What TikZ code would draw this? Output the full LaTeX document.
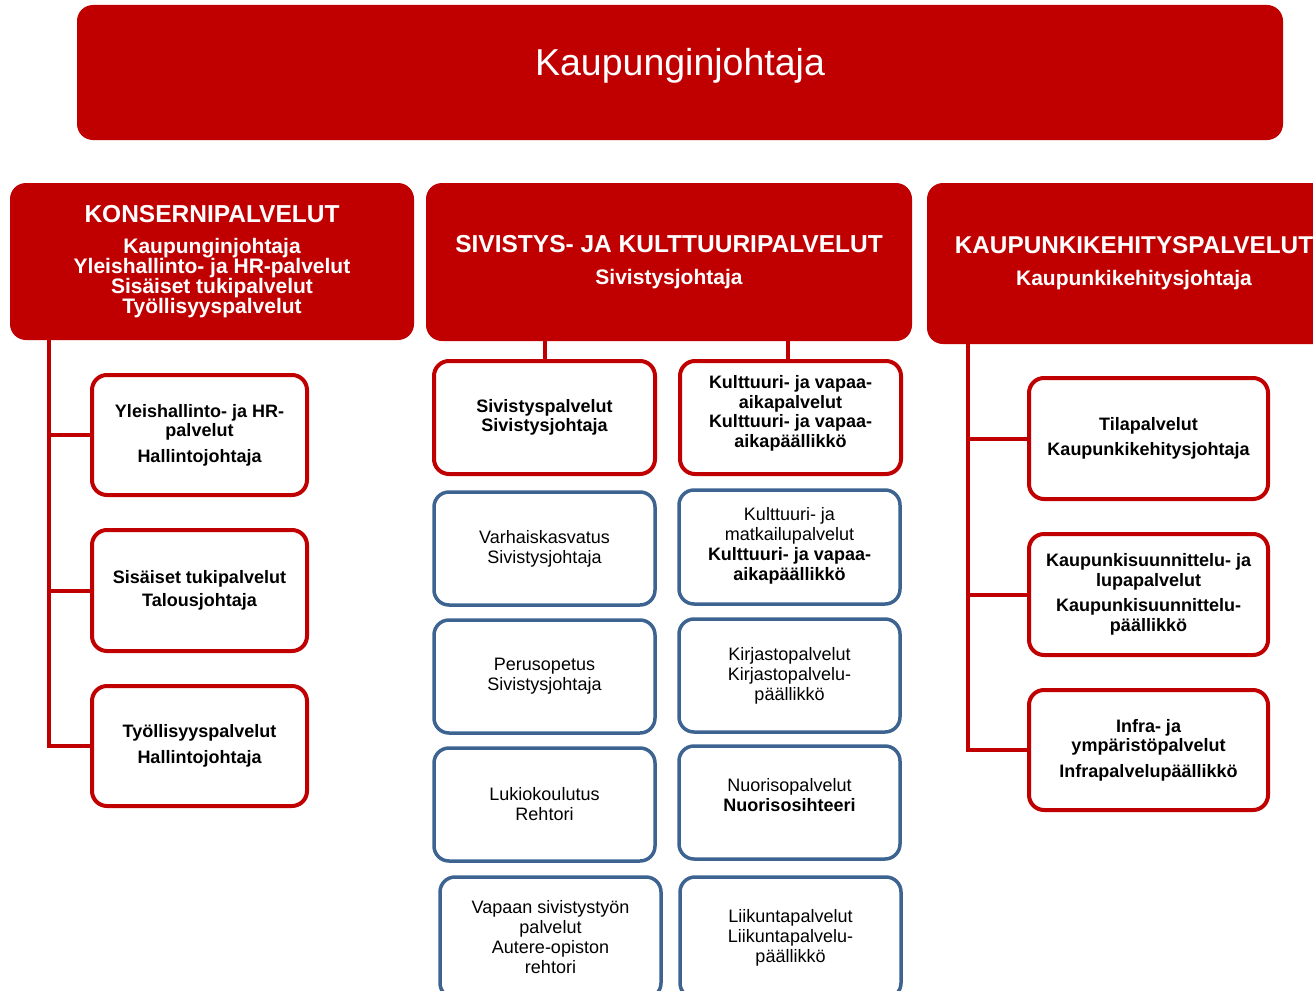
\documentclass[tikz,border=0pt]{standalone}
\usepackage{fontspec}
\setmainfont{Liberation Sans}
\definecolor{kred}{RGB}{192,0,0}
\definecolor{kblue}{RGB}{61,99,145}
\tikzset{
  hdr/.style={fill=kred, draw=none, rounded corners=16pt, text=white, align=center, font=\fontsize{21}{20}\selectfont\bfseries},
  rbox/.style={draw=kred, line width=4pt, fill=white, rounded corners=15pt, align=center, inner sep=2pt, font=\fontsize{18}{19.5}\selectfont\bfseries},
  bbox/.style={draw=kblue, line width=3.5pt, fill=white, rounded corners=15pt, align=center, inner sep=2pt, font=\fontsize{18}{20}\selectfont},
  conn/.style={draw=kred, line width=4pt},
}
\begin{document}
\begin{tikzpicture}[x=1pt,y=-1pt]
\useasboundingbox (0,0) rectangle (1313,990);
\clip (0,0) rectangle (1313,990);
\fill[white] (0,0) rectangle (1313,990);

% top banner
\node[hdr, font=\fontsize{37.5}{40}\selectfont, minimum width=1206pt, minimum height=135pt, text height=20pt, text depth=15pt] (kj) at (680,72.5) {Kaupunginjohtaja};

% headers
\node[hdr, minimum width=404pt, minimum height=157pt] (kons) at (212,261.5)
  {{\fontsize{24.5}{26}\selectfont KONSERNIPALVELUT}\\[11pt]Kaupunginjohtaja\\Yleishallinto- ja HR-palvelut\\Sisäiset tukipalvelut\\Työllisyyspalvelut};
\node[hdr, minimum width=486pt, minimum height=158pt] (siv) at (669,262)
  {{\fontsize{24.5}{26}\selectfont SIVISTYS- JA KULTTUURIPALVELUT}\\[12pt]Sivistysjohtaja};
\node[hdr, minimum width=414pt, minimum height=161pt] (kau) at (1134,263.5)
  {{\fontsize{24.3}{26}\selectfont KAUPUNKIKEHITYSPALVELUT}\\[12pt]Kaupunkikehitysjohtaja};

% left column
\node[rbox, minimum width=215pt, minimum height=120pt] (lb1) at (199.5,435) {Yleishallinto- ja HR-\\palvelut\\[6pt]Hallintojohtaja};
\node[rbox, minimum width=215pt, minimum height=121pt] (lb2) at (199.5,590.5) {Sisäiset tukipalvelut\\[4pt]Talousjohtaja};
\node[rbox, minimum width=215pt, minimum height=120pt] (lb3) at (199.5,746) {Työllisyyspalvelut\\[6pt]Hallintojohtaja};

% middle columns
\node[rbox, minimum width=221pt, minimum height=113pt] (sp) at (544.5,417.5) {Sivistyspalvelut\\Sivistysjohtaja};
\node[rbox, minimum width=221pt, minimum height=113pt, text depth=12pt] (kv) at (790.5,417.5) {Kulttuuri- ja vapaa-\\aikapalvelut\\Kulttuuri- ja vapaa-\\aikapäällikkö};
\node[bbox, minimum width=221pt, minimum height=113pt] (vk) at (544.5,548.5) {Varhaiskasvatus\\Sivistysjohtaja};
\node[bbox, minimum width=221pt, minimum height=113pt] (po) at (544.5,676.5) {Perusopetus\\Sivistysjohtaja};
\node[bbox, minimum width=221pt, minimum height=113pt] (lk) at (544.5,804.5) {Lukiokoulutus\\Rehtori};
\node[bbox, minimum width=221pt, minimum height=121pt] (vs) at (550.5,937.5) {Vapaan sivistystyön\\palvelut\\Autere-opiston\\rehtori};
\node[bbox, minimum width=221pt, minimum height=114pt, text depth=7pt] (km) at (789.5,547) {Kulttuuri- ja\\matkailupalvelut\\\textbf{Kulttuuri- ja vapaa-}\\\textbf{aikapäällikkö}};
\node[bbox, minimum width=221pt, minimum height=113pt] (kp) at (789.5,675.5) {Kirjastopalvelut\\Kirjastopalvelu-\\päällikkö};
\node[bbox, minimum width=221pt, minimum height=113pt, text depth=16pt] (np) at (789.5,802.5) {Nuorisopalvelut\\\textbf{Nuorisosihteeri}};
\node[bbox, minimum width=221pt, minimum height=121pt] (lp) at (790.5,937.5) {Liikuntapalvelut\\Liikuntapalvelu-\\päällikkö};

% right column
\node[rbox, minimum width=239pt, minimum height=121pt] (rb1) at (1148.5,438.5) {Tilapalvelut\\[5pt]Kaupunkikehitysjohtaja};
\node[rbox, minimum width=239pt, minimum height=121pt] (rb2) at (1148.5,594.5) {Kaupunkisuunnittelu- ja\\lupapalvelut\\[6pt]Kaupunkisuunnittelu-\\päällikkö};
\node[rbox, minimum width=239pt, minimum height=120pt] (rb3) at (1148.5,750) {Infra- ja\\ympäristöpalvelut\\[6pt]Infrapalvelupäällikkö};

% connectors
\draw[conn] ([xshift=39pt]kons.south west) |- (lb1.west);
\draw[conn] ([xshift=39pt]kons.south west) |- (lb2.west);
\draw[conn] ([xshift=39pt]kons.south west) |- (lb3.west);
\draw[conn] (sp.north) -- (sp.north |- siv.south);
\draw[conn] ([xshift=-3pt]kv.north) -- ([xshift=-3pt]kv.north |- siv.south);
\draw[conn] ([xshift=41pt]kau.south west) |- (rb1.west);
\draw[conn] ([xshift=41pt]kau.south west) |- (rb2.west);
\draw[conn] ([xshift=41pt]kau.south west) |- (rb3.west);
\end{tikzpicture}
\end{document}
